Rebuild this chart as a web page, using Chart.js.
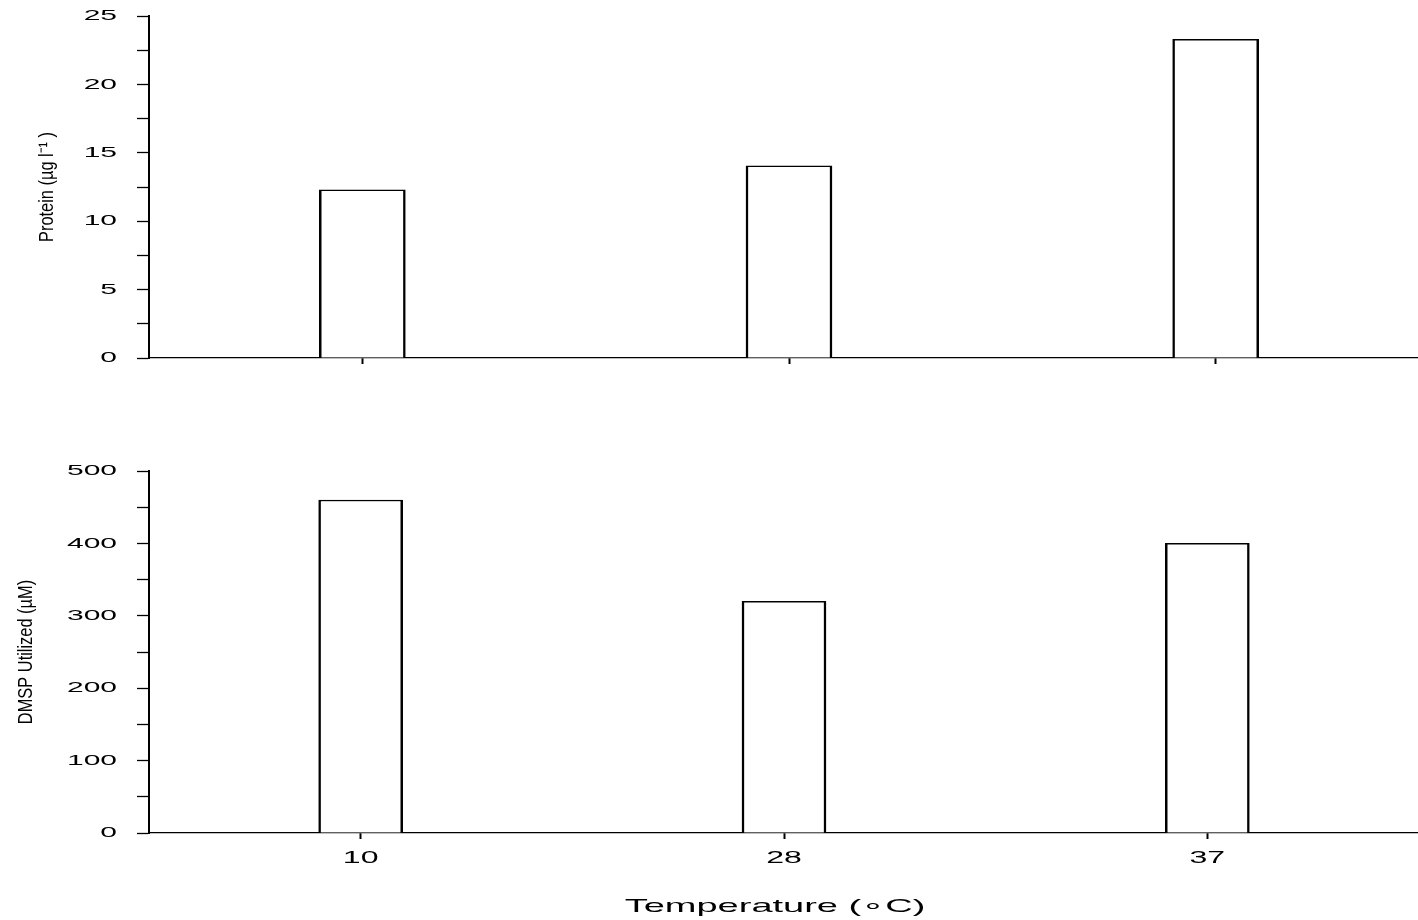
<!DOCTYPE html>
<html>
<head>
<meta charset="utf-8">
<script src="https://cdn.jsdelivr.net/npm/chart.js@4/dist/chart.umd.min.js"></script>
<style>
  html, body { margin: 0; padding: 0; background: #fff; overflow: hidden; width: 1418px; height: 920px; }
  #topBox { position: absolute; left: 0; top: 0; width: 1429px; height: 380px; }
  #botBox { position: absolute; left: 0; top: 440px; width: 1419px; height: 480px; }
</style>
</head>
<body>
<div id="topBox"><canvas id="topChart"></canvas></div>
<div id="botBox"><canvas id="botChart"></canvas></div>
<script>
// ---- data ----
const categories = ['10', '28', '37'];
const proteinValues = [12.3, 14.05, 23.3];
const dmspValues = [460, 320, 400];
const proteinTickLabels = ['0', '5', '10', '15', '20', '25'];
const dmspTickLabels = ['0', '100', '200', '300', '400', '500'];
const proteinTitle = 'Protein (µg l⁻¹ )';
const dmspTitle = 'DMSP Utilized (µM)';
const xTitle = 'Temperature (∘C)';

const FONT = '"Liberation Sans", Arial, sans-serif';
const STRETCH = 2;      // reference horizontal text is stretched horizontally
const CONDENSE = 0.82;  // reference vertical titles are condensed

// draws tick labels / titles, positions from the chart's scales
function textPlugin(opts) {
  return {
    id: 'textPlugin',
    afterDraw(chart) {
      const ctx = chart.ctx;
      const y = chart.scales.y, x = chart.scales.x;
      const area = chart.chartArea;
      // y title (rotated, condensed)
      ctx.save();
      ctx.fillStyle = '#000';
      ctx.font = '20px ' + FONT;
      ctx.textAlign = 'center';
      ctx.textBaseline = 'middle';
      ctx.translate(opts.yTitleX, (area.top + area.bottom) / 2);
      ctx.rotate(-Math.PI / 2);
      ctx.scale(CONDENSE, 1);
      ctx.fillText(opts.yTitle, 0, 0);
      ctx.restore();

      ctx.save();
      ctx.fillStyle = '#000';
      ctx.scale(STRETCH, 1);
      // y tick labels
      ctx.font = '15px ' + FONT;
      ctx.textAlign = 'right';
      ctx.textBaseline = 'middle';
      y.ticks.forEach((t, i) => {
        if (t.label === '' || t.label == null) return;
        ctx.fillText(t.label, opts.yLabelRight / STRETCH, y.getPixelForTick(i));
      });
      // x tick labels
      if (opts.xLabels) {
        ctx.font = '16px ' + FONT;
        ctx.textAlign = 'center';
        x.ticks.forEach((t, i) => {
          ctx.fillText(x.getLabelForValue(t.value), x.getPixelForTick(i) / STRETCH, area.bottom + opts.xLabelOffset);
        });
      }
      if (opts.xTitle) {
        ctx.font = '19px ' + FONT;
        ctx.textAlign = 'center';
        ctx.textBaseline = 'alphabetic';
        const cx = (area.left + area.right) / 2 + opts.xTitleShift;
        ctx.fillText(opts.xTitle, cx / STRETCH, area.bottom + opts.xTitleBaseline);
      }
      ctx.restore();
    }
  };
}

function makeChart(id, values, tickLabels, maxV, step, topPad, xHeight, barW, textOpts) {
  return new Chart(document.getElementById(id), {
    type: 'bar',
    data: {
      labels: categories,
      datasets: [{
        data: values,
        backgroundColor: '#ffffff',
        borderColor: '#000000',
        borderWidth: { top: 1.5, left: 2.5, right: 2.5, bottom: 0 },
        borderSkipped: 'start',
        barThickness: barW
      }]
    },
    options: {
      responsive: true,
      maintainAspectRatio: false,
      animation: false,
      devicePixelRatio: 1,
      layout: { padding: { top: topPad, right: 0, bottom: 0, left: 0 } },
      plugins: { legend: { display: false }, tooltip: { enabled: false } },
      scales: {
        x: {
          type: 'category',
          offset: true,
          grid: { offset: false, drawOnChartArea: false, drawTicks: true, tickLength: 6, tickWidth: 2, tickColor: '#000' },
          border: { display: true, color: '#000', width: 1.3 },
          ticks: { display: false },
          afterFit: s => { s.height = xHeight; }
        },
        y: {
          min: 0, max: maxV,
          grid: { drawOnChartArea: false, drawTicks: true, tickLength: 12, tickWidth: 1.3, tickColor: '#000' },
          border: { display: true, color: '#000', width: 2 },
          ticks: {
            display: false,
            stepSize: step,
            callback: v => tickLabels.includes(String(v)) ? String(v) : ''
          },
          title: { display: false },
          afterFit: s => { s.width = 149; }
        }
      }
    },
    plugins: [textPlugin(textOpts)]
  });
}

makeChart('topChart', proteinValues, proteinTickLabels, 25, 2.5, 16, 22, 86,
  { yLabelRight: 117, xLabels: false, yTitle: proteinTitle, yTitleX: 47 });
makeChart('botChart', dmspValues, dmspTickLabels, 500, 50, 31, 87, 84,
  { yLabelRight: 117, xLabels: true, xLabelOffset: 26, xTitle: xTitle, xTitleShift: -9, xTitleBaseline: 79,
    yTitle: dmspTitle, yTitleX: 26 });
</script>
</body>
</html>
